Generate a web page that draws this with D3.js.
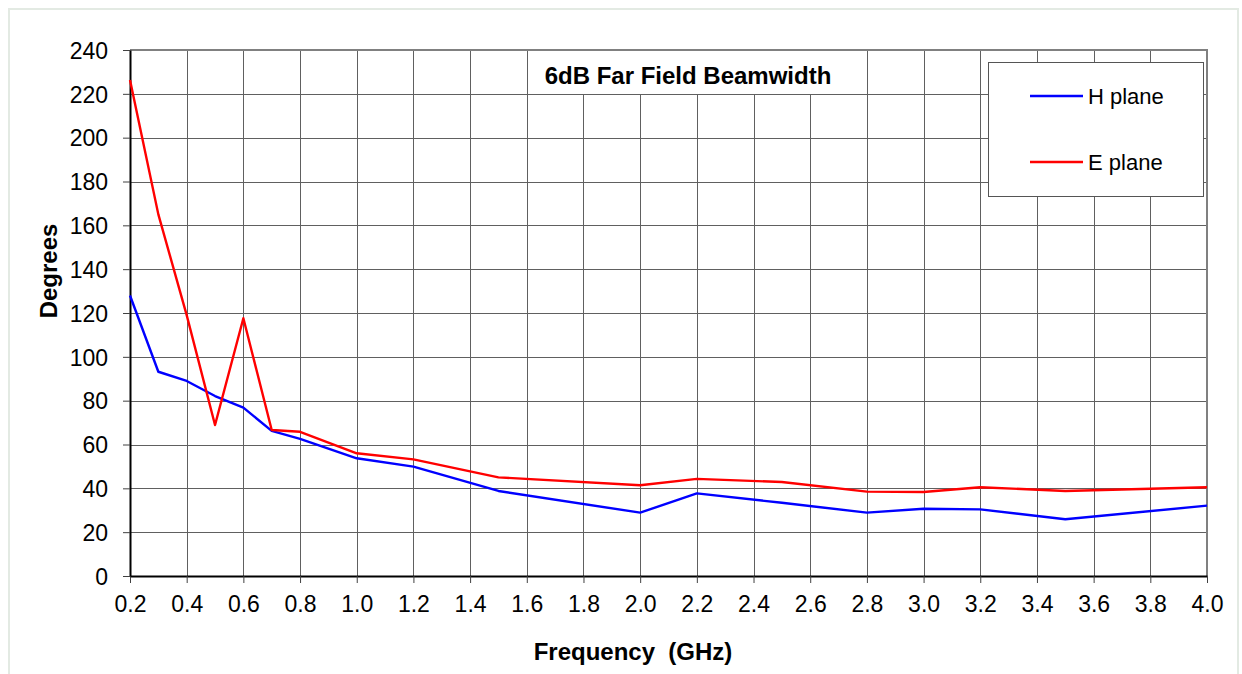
<!DOCTYPE html>
<html><head><meta charset="utf-8">
<script src="https://cdn.jsdelivr.net/npm/d3@7"></script>
<style>html,body{margin:0;padding:0;background:#fff;}svg{display:block;font-family:Arial,"Liberation Sans",sans-serif;}</style>
</head><body>
<svg id="c" width="1242" height="674"></svg>
<script>
const freqs = [0.2,0.3,0.4,0.5,0.6,0.7,0.8,1.0,1.2,1.5,2.0,2.2,2.5,2.8,3.0,3.2,3.5,4.0];
const hPlane = [128,93.2,89,82.1,76.8,66.2,62.6,53.7,49.9,38.8,28.9,37.7,33.4,28.9,30.7,30.4,25.9,32.1];
const ePlane = [226.3,165,119,68.9,117.6,66.6,65.8,56,53.2,45,41.4,44.3,42.9,38.5,38.3,40.5,38.8,40.5];
const xTicks = [0.2,0.4,0.6,0.8,1.0,1.2,1.4,1.6,1.8,2.0,2.2,2.4,2.6,2.8,3.0,3.2,3.4,3.6,3.8,4.0];
const yTicks = [0,20,40,60,80,100,120,140,160,180,200,220,240];
const seriesNames = ["H plane","E plane"];
const seriesColors = ["#0000ff","#ff0000"];
const titleText = "6dB Far Field Beamwidth";
const xTitle = "Frequency  (GHz)";
const yTitle = "Degrees";

const svg = d3.select("#c");
const L=130,R=1207,T=50,B=576;
const x = d3.scaleLinear().domain([0.2,4.0]).range([L,R]);
const y = d3.scaleLinear().domain([0,240]).range([B,T]);

svg.append("rect").attr("x",9).attr("y",9).attr("width",1229).attr("height",680)
  .attr("fill","#fff").attr("stroke","#e3eae3").attr("stroke-width",2);

// grid
const g = svg.append("g");
g.selectAll(".vg").data(xTicks.slice(1,-1)).join("line")
  .attr("x1",d=>Math.round(x(d))+0.5).attr("x2",d=>Math.round(x(d))+0.5)
  .attr("y1",T).attr("y2",B).attr("stroke","#606060").attr("stroke-width",1);
g.selectAll(".hg").data(yTicks.slice(1,-1)).join("line")
  .attr("y1",d=>Math.round(y(d))+0.5).attr("y2",d=>Math.round(y(d))+0.5)
  .attr("x1",L).attr("x2",R).attr("stroke","#606060").attr("stroke-width",1);
// top & right border
svg.append("line").attr("x1",L).attr("x2",R+1).attr("y1",T).attr("y2",T).attr("stroke","#808080").attr("stroke-width",2);
svg.append("line").attr("x1",R).attr("x2",R).attr("y1",T).attr("y2",B).attr("stroke","#808080").attr("stroke-width",2);

// axes
const xAxis = d3.axisBottom(x).tickValues(xTicks).tickFormat(d3.format(".1f")).tickSizeInner(7).tickSizeOuter(0);
const yAxis = d3.axisLeft(y).tickValues(yTicks).tickFormat(d3.format("d")).tickSizeInner(7).tickSizeOuter(0).tickPadding(15);
const xa = svg.append("g").attr("transform",`translate(0,${B})`).call(xAxis);
const ya = svg.append("g").attr("transform",`translate(${L},0)`).call(yAxis);
[xa,ya].forEach(a=>{
  a.select(".domain").attr("stroke","#000").attr("stroke-width",2);
  a.selectAll(".tick line").attr("stroke","#404040");
  a.selectAll("text").attr("font-size",23).attr("fill","#000").attr("font-family","Arial,'Liberation Sans',sans-serif");
});
xa.selectAll("text").attr("y",36).attr("dy",0);
ya.selectAll("text").attr("dy","0.36em");

// title box
const tb = svg.append("g");
tb.append("rect").attr("x",538).attr("y",51).attr("width",303).attr("height",43).attr("fill","#fff");
tb.append("text").attr("x",688).attr("y",84).attr("text-anchor","middle")
  .attr("font-size",24).attr("font-weight","bold").text(titleText);

// lines
const line = d3.line().x((d,i)=>x(freqs[i])).y(d=>y(d));
[hPlane,ePlane].forEach((s,i)=>{
  svg.append("path").datum(s).attr("d",line).attr("fill","none")
    .attr("stroke",seriesColors[i]).attr("stroke-width",2.4).attr("stroke-linejoin","round");
});

// legend
const lg = svg.append("g");
lg.append("rect").attr("x",988.5).attr("y",62.5).attr("width",215).attr("height",134)
  .attr("fill","#fff").attr("stroke","#555").attr("stroke-width",1);
seriesNames.forEach((n,i)=>{
  const yy = 96 + i*66;
  lg.append("line").attr("x1",1030).attr("x2",1083).attr("y1",yy).attr("y2",yy)
    .attr("stroke",seriesColors[i]).attr("stroke-width",2.4);
  lg.append("text").attr("x",1088).attr("y",yy+8).attr("font-size",22).text(n);
});

// axis titles
svg.append("text").attr("x",633).attr("y",660).attr("text-anchor","middle").style("white-space","pre")
  .attr("font-size",24).attr("font-weight","bold").text(xTitle);
svg.append("text").attr("transform","translate(57,271) rotate(-90)").attr("text-anchor","middle")
  .attr("font-size",24).attr("font-weight","bold").text(yTitle);
</script>
</body></html>
